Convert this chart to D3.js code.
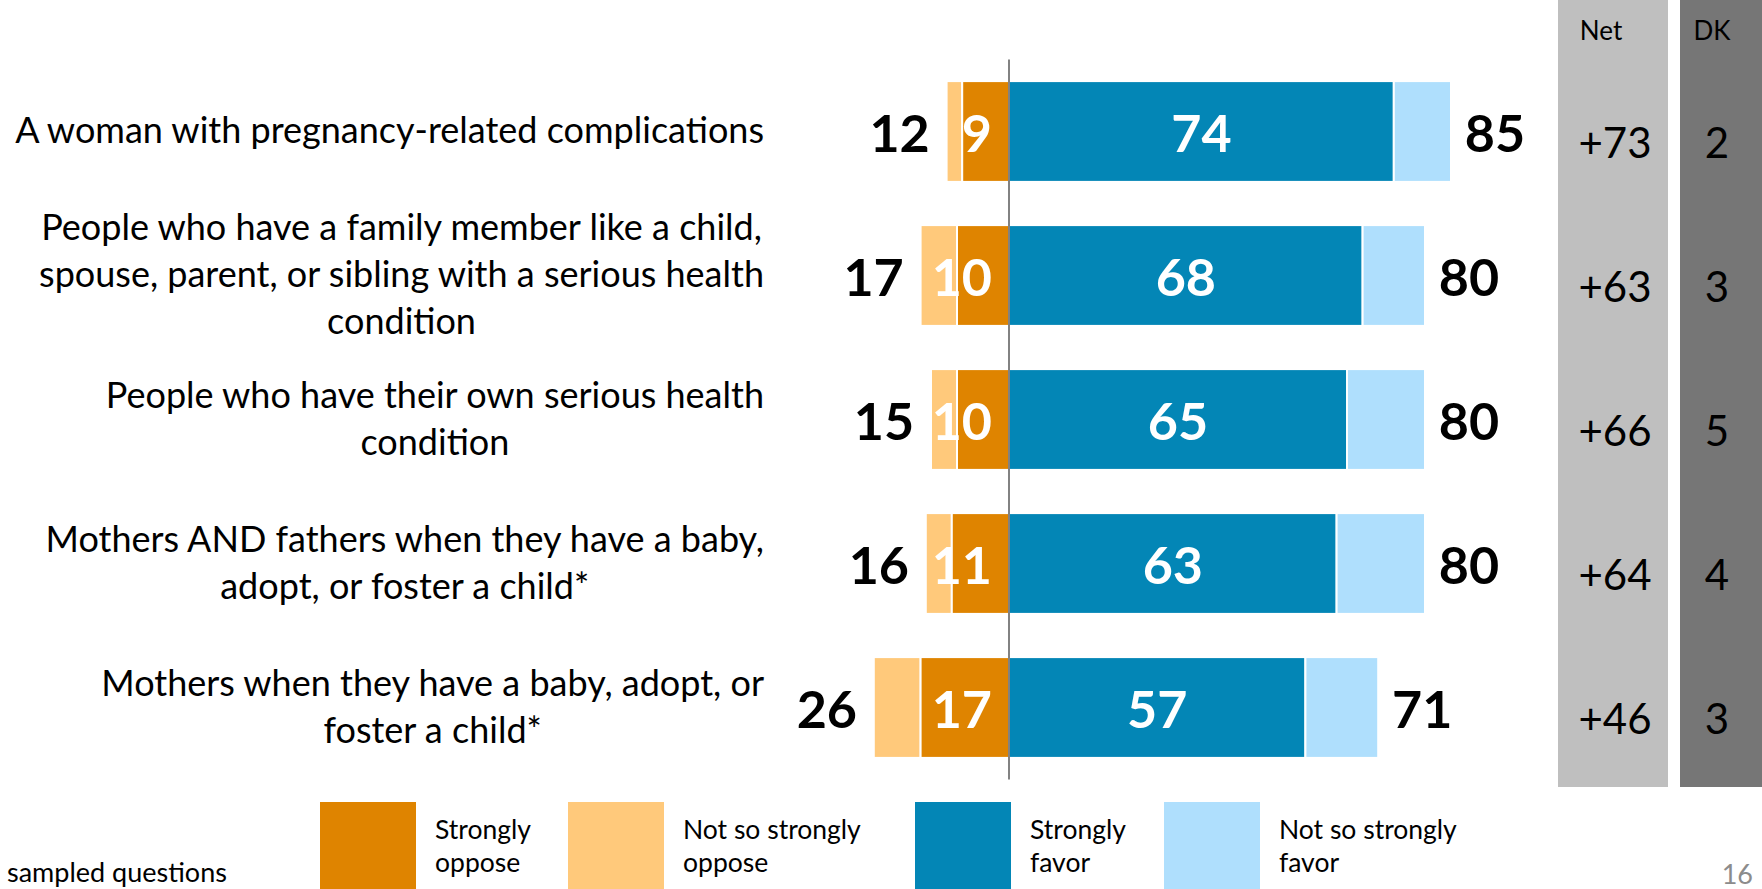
<!DOCTYPE html>
<html>
<head>
<meta charset="utf-8">
<script src="https://cdn.jsdelivr.net/npm/d3@7"></script>
<style>
  html, body { margin: 0; padding: 0; background: #fff; }
  svg { display: block; }
  text { font-family: Lato, "Open Sans", sans-serif; }
</style>
</head>
<body>
<svg id="chart" width="1762" height="889"></svg>
<script>
// Support for paid leave, by who would be covered
const categories = [
  ["A woman with pregnancy-related complications"],
  ["People who have a family member like a child,", "spouse, parent, or sibling with a serious health", "condition"],
  ["People who have their own serious health", "condition"],
  ["Mothers AND fathers when they have a baby,", "adopt, or foster a child*"],
  ["Mothers when they have a baby, adopt, or", "foster a child*"]
];
const totalOppose    = [12, 17, 15, 16, 26];
const stronglyOppose = [9, 10, 10, 11, 17];
const stronglyFavor  = [74, 68, 65, 63, 57];
const totalFavor     = [85, 80, 80, 80, 71];
const netValues      = [73, 63, 66, 64, 46];
const dkValues       = [2, 3, 5, 4, 3];

const legendLabels = [
  ["Strongly", "oppose"],
  ["Not so strongly", "oppose"],
  ["Strongly", "favor"],
  ["Not so strongly", "favor"]
];
const colors = {
  strongOppose: "#DF8400",
  softOppose: "#FFC97B",
  strongFavor: "#0386B6",
  softFavor: "#AFDFFD"
};
const legendColors = [colors.strongOppose, colors.softOppose, colors.strongFavor, colors.softFavor];

const svg = d3.select("#chart");
const idx = d3.range(categories.length);

const x = d3.scaleLinear().domain([-30, 90]).range([853, 1477]);
const y = d3.scaleBand().domain(idx).range([59.5, 779.5]).paddingInner(0.3).paddingOuter(0.15);
const bw = y.bandwidth();

// Net / DK side columns
svg.append("rect").attr("x", 1558).attr("y", 0).attr("width", 110).attr("height", 787).attr("fill", "#BFBFBF");
svg.append("rect").attr("x", 1680).attr("y", 0).attr("width", 90).attr("height", 787).attr("fill", "#767676");
svg.append("text").attr("x", 1601).attr("y", 40).attr("text-anchor", "middle")
  .attr("font-size", 26).attr("fill", "#000").text("Net");
svg.append("text").attr("x", 1712).attr("y", 40).attr("text-anchor", "middle")
  .attr("font-size", 26).attr("fill", "#000").text("DK");

// stacked segments, diverging from zero
const segments = [];
idx.forEach(i => {
  segments.push({ i, x0: -totalOppose[i], x1: -stronglyOppose[i], c: colors.softOppose });
  segments.push({ i, x0: -stronglyOppose[i], x1: 0, c: colors.strongOppose });
  segments.push({ i, x0: 0, x1: stronglyFavor[i], c: colors.strongFavor });
  segments.push({ i, x0: stronglyFavor[i], x1: totalFavor[i], c: colors.softFavor });
});

svg.append("g").selectAll("rect").data(segments).join("rect")
  .attr("x", d => x(d.x0))
  .attr("y", d => y(d.i))
  .attr("width", d => x(d.x1) - x(d.x0))
  .attr("height", bw)
  .attr("fill", d => d.c)
  .attr("stroke", "#fff")
  .attr("stroke-width", 2);

// zero line
svg.append("line")
  .attr("x1", x(0)).attr("x2", x(0))
  .attr("y1", y.range()[0]).attr("y2", y.range()[1])
  .attr("stroke", "#595959").attr("stroke-width", 1.5);

const numSize = 52;
const baseOff = numSize * 0.36 + 2;

// total labels
svg.append("g").selectAll("text").data(idx).join("text")
  .attr("x", i => x(-totalOppose[i]) - 47)
  .attr("y", i => y(i) + bw / 2 + baseOff)
  .attr("text-anchor", "middle")
  .attr("font-size", numSize).attr("font-weight", 700).attr("fill", "#000")
  .text(i => totalOppose[i]);

svg.append("g").selectAll("text").data(idx).join("text")
  .attr("x", i => x(totalFavor[i]) + 44)
  .attr("y", i => y(i) + bw / 2 + baseOff)
  .attr("text-anchor", "middle")
  .attr("font-size", numSize).attr("font-weight", 700).attr("fill", "#000")
  .text(i => totalFavor[i]);

// inner labels for the strongly segments
svg.append("g").selectAll("text").data(idx).join("text")
  .attr("x", x(0) - 17)
  .attr("y", i => y(i) + bw / 2 + baseOff)
  .attr("text-anchor", "end")
  .attr("font-size", numSize).attr("font-weight", 700).attr("fill", "#fff")
  .text(i => stronglyOppose[i]);

svg.append("g").selectAll("text").data(idx).join("text")
  .attr("x", i => x(stronglyFavor[i] / 2))
  .attr("y", i => y(i) + bw / 2 + baseOff)
  .attr("text-anchor", "middle")
  .attr("font-size", numSize).attr("font-weight", 700).attr("fill", "#fff")
  .text(i => stronglyFavor[i]);

// net and don't-know values
svg.append("g").selectAll("text").data(idx).join("text")
  .attr("x", 1615)
  .attr("y", i => y(i) + bw / 2 + 11 + 15)
  .attr("text-anchor", "middle")
  .attr("font-size", 42).attr("fill", "#000")
  .text(i => "+" + netValues[i]);

svg.append("g").selectAll("text").data(idx).join("text")
  .attr("x", 1717)
  .attr("y", i => y(i) + bw / 2 + 11 + 15)
  .attr("text-anchor", "middle")
  .attr("font-size", 42).attr("fill", "#000")
  .text(i => dkValues[i]);

// category labels: centred lines, block flush against the right edge
const labelRight = 764;
const lineGap = 47;
const labelSize = 36;
const catG = svg.append("g");
idx.forEach(i => {
  const lines = categories[i];
  const g = catG.append("g");
  const cy = y(i) + bw / 2;
  const t = g.selectAll("text").data(lines).join("text")
    .attr("font-size", labelSize).attr("fill", "#000")
    .attr("text-anchor", "middle")
    .attr("y", (d, k) => cy + (k - (lines.length - 1) / 2) * lineGap + labelSize * 0.33)
    .text(d => d);
  let maxW = 0;
  t.each(function () { maxW = Math.max(maxW, this.getComputedTextLength()); });
  t.attr("x", labelRight - maxW / 2);
});

// legend
const legendX = [320, 568, 915, 1164];
const lg = svg.append("g");
legendLabels.forEach((lab, k) => {
  lg.append("rect").attr("x", legendX[k]).attr("y", 802).attr("width", 96).attr("height", 100)
    .attr("fill", legendColors[k]);
  lg.append("text").attr("x", legendX[k] + 115).attr("y", 839)
    .attr("font-size", 26.5).attr("fill", "#000").text(lab[0]);
  lg.append("text").attr("x", legendX[k] + 115).attr("y", 872)
    .attr("font-size", 26.5).attr("fill", "#000").text(lab[1]);
});

svg.append("text").attr("x", 7).attr("y", 882).attr("font-size", 27).attr("fill", "#000")
  .text("sampled questions");
svg.append("text").attr("x", 1753).attr("y", 884).attr("text-anchor", "end")
  .attr("font-size", 27).attr("fill", "#8C8C8C").text("16");
</script>
</body>
</html>
